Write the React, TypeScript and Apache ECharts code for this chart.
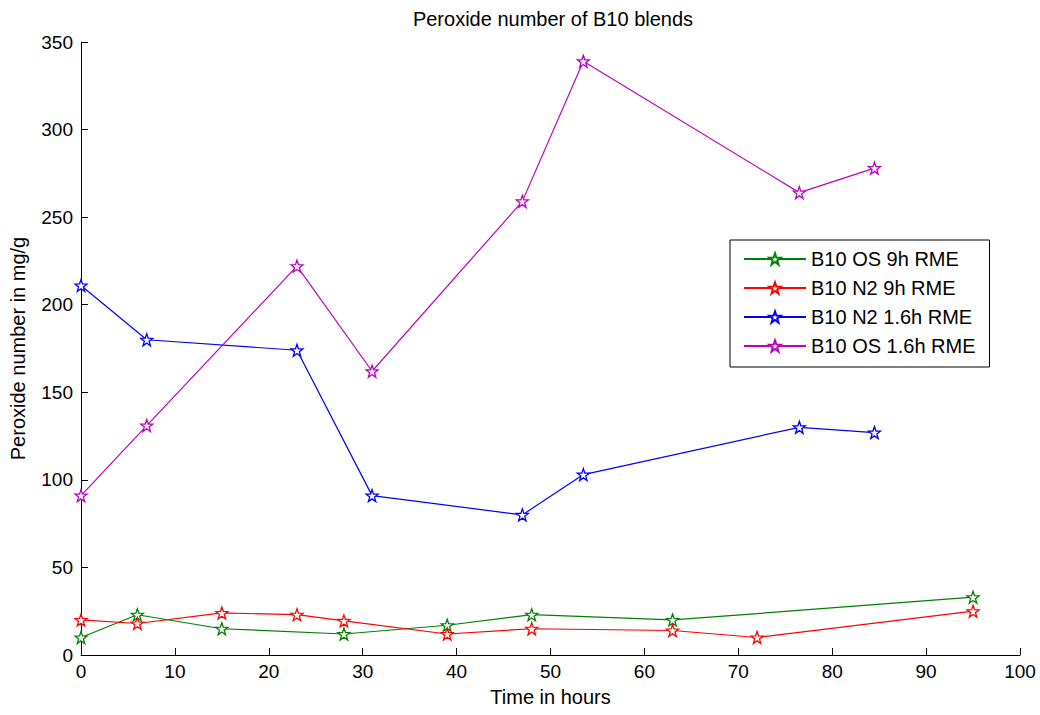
import React, { useEffect, useRef } from "react";
import * as echarts from "echarts";

const seriesNames = ["B10 OS 9h RME", "B10 N2 9h RME", "B10 N2 1.6h RME", "B10 OS 1.6h RME"];
const seriesColors = ["#008000", "#ff0000", "#0000ff", "#bf00bf"];

const osNineHours = [0, 6, 15, 28, 39, 48, 63, 95];
const osNineValues = [10, 23, 15, 12, 17, 23, 20, 33];

const n2NineHours = [0, 6, 15, 23, 28, 39, 48, 63, 72, 95];
const n2NineValues = [20, 18, 24, 23, 19.5, 12, 15, 14, 10, 25];

const n2ShortHours = [0, 7, 23, 31, 47, 53.5, 76.5, 84.5];
const n2ShortValues = [211, 180, 174, 91, 80, 103, 130, 127];

const osShortHours = [0, 7, 23, 31, 47, 53.5, 76.5, 84.5];
const osShortValues = [91, 131, 222, 162, 259, 339, 264, 278];

const xTicks = [0, 10, 20, 30, 40, 50, 60, 70, 80, 90, 100];
const yTicks = [0, 50, 100, 150, 200, 250, 300, 350];

const STAR =
  "path://M0,-10L2.35,-3.24L9.51,-3.09L3.8,1.24L5.88,8.09L0,4L-5.88,8.09L-3.8,1.24L-9.51,-3.09L-2.35,-3.24Z";

function pairs(xs: number[], ys: number[]) {
  return xs.map((x, i) => [x, ys[i]]);
}

export default function App() {
  const ref = useRef<HTMLDivElement>(null);
  useEffect(() => {
    if (!ref.current) return;
    const chart = echarts.init(ref.current, undefined, { renderer: "svg" });
    const datasets = [
      pairs(osNineHours, osNineValues),
      pairs(n2NineHours, n2NineValues),
      pairs(n2ShortHours, n2ShortValues),
      pairs(osShortHours, osShortValues),
    ];
    const font = "'Liberation Sans', Arial, sans-serif";
    chart.setOption({
      animation: false,
      backgroundColor: "#ffffff",
      textStyle: { fontFamily: font },
      title: {
        text: "Peroxide number of B10 blends",
        left: 548,
        textAlign: "center",
        top: 4,
        textStyle: { fontSize: 20, fontWeight: "normal", color: "#000", fontFamily: font },
      },
      grid: { left: 81, right: 20, top: 42, bottom: 60, containLabel: false },
      legend: {
        left: 730,
        top: 240,
        orient: "vertical",
        backgroundColor: "#fff",
        borderColor: "#000",
        borderWidth: 1,
        padding: [9, 14, 11, 13],
        itemWidth: 62,
        itemHeight: 14,
        itemGap: 9,
        textStyle: { fontSize: 20, lineHeight: 20, color: "#000", fontFamily: font },
        data: seriesNames,
      },
      xAxis: {
        type: "value",
        min: 0,
        max: 100,
        interval: 10,
        name: "Time in hours",
        nameLocation: "middle",
        nameGap: 32,
        nameTextStyle: { fontSize: 20, color: "#000" },
        axisLine: { lineStyle: { color: "#000" } },
        axisTick: { inside: true, length: 7, lineStyle: { color: "#000" } },
        axisLabel: { fontSize: 19, color: "#000", margin: 7 },
        splitLine: { show: false },
      },
      yAxis: {
        type: "value",
        min: 0,
        max: 350,
        interval: 50,
        name: "Peroxide number in mg/g",
        nameLocation: "middle",
        nameGap: 53,
        nameTextStyle: { fontSize: 20, color: "#000" },
        axisLine: { show: true, lineStyle: { color: "#000" } },
        axisTick: { show: true, inside: true, length: 7, lineStyle: { color: "#000" } },
        axisLabel: { fontSize: 19, color: "#000", margin: 8 },
        splitLine: { show: false },
      },
      series: datasets.map((d, i) => ({
        name: seriesNames[i],
        type: "line",
        data: d,
        color: seriesColors[i],
        symbol: STAR,
        symbolSize: 12,
        showSymbol: true,
        lineStyle: { color: seriesColors[i], width: 1.2 },
        itemStyle: { color: "#ffffff", borderColor: seriesColors[i], borderWidth: 1.3 },
        emphasis: { disabled: true },
      })),
    });
    return () => chart.dispose();
  }, []);
  return (
    <div
      ref={ref}
      style={{ position: "fixed", left: 0, top: 0, width: 1040, height: 715 }}
    />
  );
}
